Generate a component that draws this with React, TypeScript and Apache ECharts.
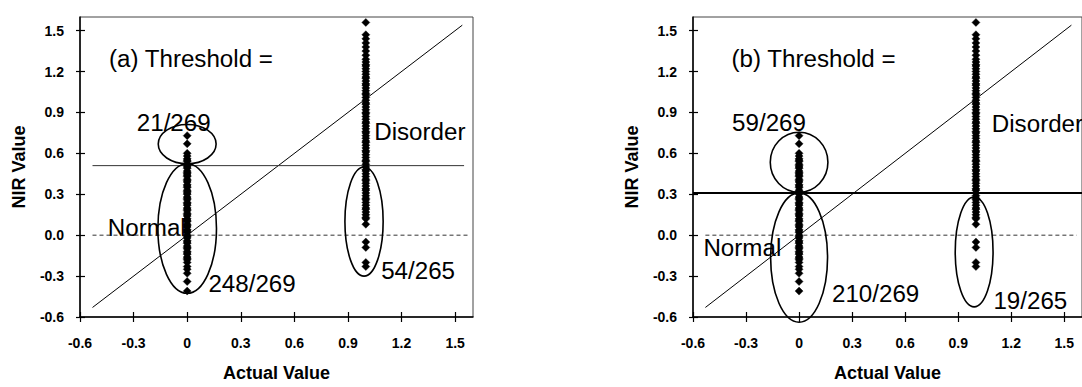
import React, { useEffect, useRef } from "react";
import * as echarts from "echarts";

// ---------- data ----------
const xTicks = [-0.6, -0.3, 0, 0.3, 0.6, 0.9, 1.2, 1.5];
const yTicks = [-0.6, -0.3, 0, 0.3, 0.6, 0.9, 1.2, 1.5];

const normalActual = 0;
const disorderActual = 1;

const normalNIR = [
  0.73, 0.67, 0.6, 0.58, 0.56, 0.55, 0.54, 0.52, 0.51, 0.5, 0.49, 0.47, 0.46, 0.45, 0.44, 0.43, 0.41, 0.4,
  0.39, 0.37, 0.36, 0.35, 0.33, 0.32, 0.31, 0.3, 0.28, 0.27, 0.26, 0.24, 0.23, 0.22, 0.2, 0.19, 0.18, 0.16,
  0.15, 0.14, 0.12, 0.11, 0.1, 0.08, 0.07, 0.06, 0.04, 0.03, 0.02, 0.0, -0.01, -0.02, -0.04, -0.05, -0.06,
  -0.08, -0.09, -0.1, -0.12, -0.13, -0.14, -0.16, -0.17, -0.18, -0.2, -0.23, -0.25, -0.28, -0.34, -0.41,
];

const disorderNIR = [
  1.56, 1.47, 1.44, 1.41, 1.38, 1.35, 1.32, 1.29, 1.27, 1.25, 1.24, 1.22, 1.2, 1.18, 1.16, 1.15, 1.13, 1.11,
  1.1, 1.08, 1.06, 1.04, 1.03, 1.01, 0.99, 0.97, 0.96, 0.94, 0.92, 0.9, 0.89, 0.87, 0.85, 0.83, 0.82, 0.8,
  0.78, 0.76, 0.75, 0.73, 0.71, 0.69, 0.68, 0.66, 0.64, 0.62, 0.61, 0.59, 0.57, 0.55, 0.54, 0.52, 0.5, 0.48,
  0.47, 0.45, 0.43, 0.41, 0.4, 0.38, 0.36, 0.34, 0.33, 0.31, 0.29, 0.27, 0.26, 0.24, 0.22, 0.2, 0.19, 0.17,
  0.15, 0.13, 0.12, 0.08, -0.05, -0.09, -0.2, -0.23,
];

const diagonalLine = [
  [-0.53, -0.53],
  [1.54, 1.54],
];
const zeroLine = [
  [-0.53, 0],
  [1.57, 0],
];
const thresholdLineA = [
  [-0.53, 0.51],
  [1.55, 0.51],
];
const thresholdLineB = [
  [-0.6, 0.31],
  [1.6, 0.31],
];

// ellipses: [cx, cy, rx, ry] in data units
const ellipsesA = [
  [0, 0.668, 0.162, 0.144],
  [0, 0.049, 0.164, 0.475],
  [0.99, 0.1, 0.107, 0.4],
];
const ellipsesB = [
  [0, 0.535, 0.163, 0.22],
  [0, -0.164, 0.161, 0.474],
  [0.99, -0.123, 0.107, 0.403],
];

const notesA = [
  { text: "(a) Threshold =", x: -0.438, y: 1.292 },
  { text: "21/269", x: -0.282, y: 0.824 },
  { text: "Disorder", x: 1.047, y: 0.753 },
  { text: "Normal", x: -0.444, y: 0.05 },
  { text: "248/269", x: 0.119, y: -0.363 },
  { text: "54/265", x: 1.086, y: -0.267 },
];
const notesB = [
  { text: "(b) Threshold =", x: -0.382, y: 1.292 },
  { text: "59/269", x: -0.379, y: 0.824 },
  { text: "Disorder", x: 1.09, y: 0.812 },
  { text: "Normal", x: -0.541, y: -0.094 },
  { text: "210/269", x: 0.186, y: -0.43 },
  { text: "19/265", x: 1.099, y: -0.483 },
];

const FONT = '"Liberation Sans", Arial, sans-serif';
const PAGE_CSS = "html,body{margin:0;padding:0;overflow:hidden;} #root svg{display:block;}";

export default function App() {
  const ref = useRef<HTMLDivElement>(null);

  useEffect(() => {
    if (!ref.current) return;
    const chart = echarts.init(ref.current, undefined, { renderer: "svg" });

    const grids = [
      { left: 80, top: 17, width: 393, height: 306 },
      { left: 693, top: 17, width: 393, height: 306 },
    ];

    const xAxes: any[] = [];
    const yAxes: any[] = [];
    grids.forEach((_, gi) => {
      const base = {
        type: "value",
        gridIndex: gi,
        min: -0.6,
        max: 1.6,
        interval: 0.3,
        splitLine: { show: false },
      };
      xAxes.push({
        ...base,
        position: "bottom",
        name: "Actual Value",
        nameLocation: "middle",
        nameGap: 47,
        nameTextStyle: { fontFamily: FONT, fontSize: 18, fontWeight: "bold", color: "#000" },
        axisLine: { show: true, onZero: false, lineStyle: { color: "#000", width: 1.5 } },
        axisTick: { show: true, inside: false, length: 5, customValues: xTicks, lineStyle: { color: "#000", width: 1.2 } },
        axisLabel: {
          show: true,
          customValues: xTicks,
          margin: 19,
          fontFamily: FONT,
          fontSize: 14,
          fontWeight: "bold",
          color: "#000",
          formatter: (v: number) => (Math.abs(v) < 1e-9 ? "0" : v.toFixed(1)),
        },
      });
      xAxes.push({
        ...base,
        position: "bottom",
        axisLine: { show: false, onZero: false },
        axisTick: { show: true, inside: true, length: 5, customValues: xTicks, lineStyle: { color: "#000", width: 1.2 } },
        axisLabel: { show: false },
      });
      yAxes.push({
        ...base,
        position: "left",
        name: "NIR Value",
        nameLocation: "middle",
        nameGap: 52,
        nameTextStyle: { fontFamily: FONT, fontSize: 18, fontWeight: "bold", color: "#000" },
        axisLine: { show: true, onZero: false, lineStyle: { color: "#000", width: 1.5 } },
        axisTick: { show: true, inside: false, length: 4, customValues: yTicks, lineStyle: { color: "#000", width: 1.2 } },
        axisLabel: {
          show: true,
          customValues: yTicks,
          margin: 16,
          fontFamily: FONT,
          fontSize: 14,
          fontWeight: "bold",
          color: "#000",
          formatter: (v: number) => v.toFixed(1),
        },
      });
      yAxes.push({
        ...base,
        position: "left",
        axisLine: { show: false, onZero: false },
        axisTick: { show: true, inside: true, length: 5, customValues: yTicks, lineStyle: { color: "#000", width: 1.2 } },
        axisLabel: { show: false },
      });
    });

    const points = normalNIR
      .map((v) => [normalActual, v])
      .concat(disorderNIR.map((v) => [disorderActual, v]));

    const series: any[] = [];
    const panels = [
      { ellipses: ellipsesA, notes: notesA, threshold: thresholdLineA, thrStyle: { color: "#333", width: 1 } },
      { ellipses: ellipsesB, notes: notesB, threshold: thresholdLineB, thrStyle: { color: "#000", width: 2 } },
    ];
    panels.forEach((p, gi) => {
      const xi = gi * 2;
      const yi = gi * 2;
      series.push({
        type: "custom",
        xAxisIndex: xi,
        yAxisIndex: yi,
        z: 1,
        silent: true,
        clip: false,
        data: p.notes.map((n) => [n.x, n.y]),
        renderItem: (params: any, api: any) => {
          const n = p.notes[params.dataIndex];
          const c = api.coord([api.value(0), api.value(1)]);
          return {
            type: "text",
            x: c[0],
            y: c[1],
            scaleX: 1.05,
            style: {
              text: n.text,
              fill: "#000",
              fontSize: 23,
              fontFamily: FONT,
              align: "left",
              verticalAlign: "middle",
            },
          };
        },
      });
      series.push({
        type: "line",
        xAxisIndex: xi,
        yAxisIndex: yi,
        z: 2,
        silent: true,
        symbol: "none",
        clip: false,
        data: diagonalLine,
        lineStyle: { color: "#000", width: 1 },
      });
      series.push({
        type: "line",
        xAxisIndex: xi,
        yAxisIndex: yi,
        z: 2,
        silent: true,
        symbol: "none",
        clip: false,
        data: zeroLine,
        lineStyle: { color: "#333", width: 1, type: [4, 3] },
      });
      series.push({
        type: "line",
        xAxisIndex: xi,
        yAxisIndex: yi,
        z: 2,
        silent: true,
        symbol: "none",
        clip: false,
        data: p.threshold,
        lineStyle: p.thrStyle,
      });
      series.push({
        type: "custom",
        xAxisIndex: xi,
        yAxisIndex: yi,
        z: 3,
        silent: true,
        clip: false,
        data: p.ellipses,
        renderItem: (params: any, api: any) => {
          const c = api.coord([api.value(0), api.value(1)]);
          const s = api.size([api.value(2), api.value(3)]);
          return {
            type: "ellipse",
            shape: { cx: c[0], cy: c[1], rx: s[0], ry: s[1] },
            style: { fill: "none", stroke: "#000", lineWidth: 1.6 },
          };
        },
      });
      series.push({
        type: "scatter",
        xAxisIndex: xi,
        yAxisIndex: yi,
        z: 5,
        silent: true,
        symbol: "diamond",
        symbolSize: 8,
        itemStyle: { color: "#000", borderColor: "#000", borderWidth: 0.4, opacity: 1 },
        data: points,
      });
    });

    chart.setOption({
      animation: false,
      backgroundColor: "#fff",
      grid: grids.map((g) => ({ ...g, show: true, borderColor: "#444", borderWidth: 1, backgroundColor: "transparent" })),
      xAxis: xAxes,
      yAxis: yAxes,
      series,
    });

    return () => chart.dispose();
  }, []);

  return (
    <>
      <style>{PAGE_CSS}</style>
      <div
        ref={ref}
        style={{ position: "fixed", left: 0, top: 0, width: 1082, height: 387, overflow: "hidden" }}
      />
    </>
  );
}
